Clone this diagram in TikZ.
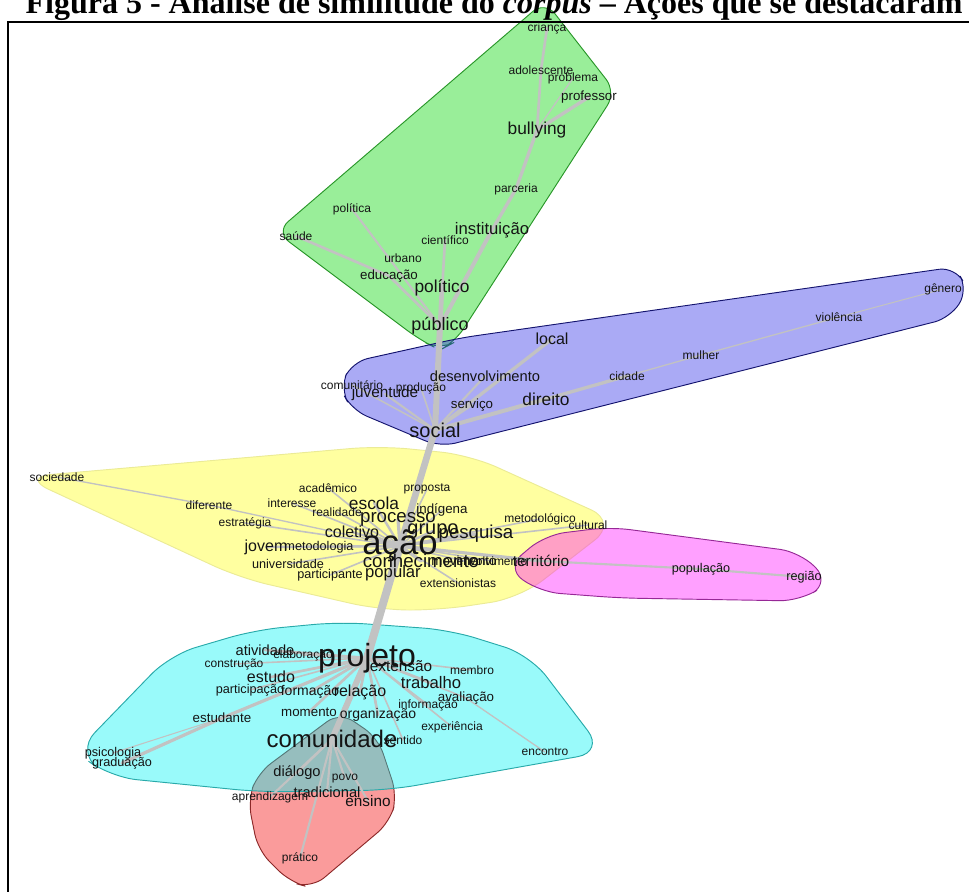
\documentclass[tikz,border=0pt]{standalone}
\usepackage{fontspec}
\setmainfont{Liberation Sans}
\newfontfamily\titlefont{Liberation Serif}
\usetikzlibrary{positioning}

\definecolor{cverde}{RGB}{0,212,0}
\definecolor{bverde}{RGB}{40,150,40}
\definecolor{cazul}{RGB}{42,42,230}
\definecolor{bazul}{RGB}{20,20,110}
\definecolor{camarelo}{RGB}{255,255,17}
\definecolor{bamarelo}{RGB}{235,235,150}
\definecolor{crosa}{RGB}{255,17,255}
\definecolor{brosa}{RGB}{150,40,150}
\definecolor{cciano}{RGB}{0,242,242}
\definecolor{bciano}{RGB}{40,170,170}
\definecolor{cverm}{RGB}{242,5,5}
\definecolor{bverm}{RGB}{140,40,40}

\pgfdeclarelayer{hulls}
\pgfdeclarelayer{edges}
\pgfsetlayers{hulls,edges,main}

\tikzset{
  word/.style={inner sep=0pt, text=black!92, font=\fontsize{#1}{#1}\selectfont},
  link/.style={draw=black!24, line width=#1, line cap=round},
  hull/.style={rounded corners=12pt, fill opacity=0.4, line width=0.7pt}
}

\begin{document}
\begin{tikzpicture}[x=0.75pt, y=-0.75pt]
	\useasboundingbox (0,0) rectangle (969,891);
	\clip (0,0) rectangle (969,891);
	\node[anchor=base] (titulo) at (494,14) {\titlefont\bfseries\fontsize{24}{24}\selectfont Figura 5 - Análise de similitude do \textit{corpus} – Ações que se destacaram};
	\draw [line width=1.6pt] (980,22) -- (8,22) -- (8,900);

	% grupo verde
	\node[word=9] (crianca) at (547,28) {criança};
	\node[word=9] (adolescente) at (541,70) {adolescente};
	\node[word=9] (problema) at (573,78) {problema};
	\node[word=10] (professor) at (589,97) {professor};
	\node[word=13] (bullying) at (537,130) {bullying};
	\node[word=9] (parceria) at (516,189) {parceria};
	\node[word=9] (politica) at (352,209) {política};
	\node[word=9] (saude) at (296,236) {saúde};
	\node[word=9] (cientifico) at (445,240) {científico};
	\node[word=12.5] (instituicao) at (492,230) {instituição};
	\node[word=9] (urbano) at (403,258) {urbano};
	\node[word=10] (educacao) at (389,276) {educação};
	\node[word=13] (politico) at (442,288) {político};
	\node[word=13.5] (publico) at (440,326) {público};

	% grupo azul
	\node[word=12] (local) at (552,339) {local};
	\node[word=9] (genero) at (943,289) {gênero};
	\node[word=9] (violencia) at (839,317) {violência};
	\node[word=9] (mulher) at (701,355) {mulher};
	\node[word=9] (cidade) at (627,376) {cidade};
	\node[word=11] (desenvolvimento) at (485,376) {desenvolvimento};
	\node[word=9] (comunitario) at (352,385) {comunitário};
	\node[word=9] (producao) at (421,388) {produção};
	\node[word=11.5] (juventude) at (385,394) {juventude};
	\node[word=10] (servico) at (472,405) {serviço};
	\node[word=13] (direito) at (546,399) {direito};
	\node[word=15] (social) at (435,430) {social};

	% grupo amarelo
	\node[word=9] (sociedade) at (57,477) {sociedade};
	\node[word=9] (academico) at (328,488) {acadêmico};
	\node[word=9] (proposta) at (427,489) {proposta};
	\node[word=9] (diferente) at (209,505) {diferente};
	\node[word=9] (interesse) at (292,503) {interesse};
	\node[word=13] (escola) at (374,503) {escola};
	\node[word=9] (realidade) at (337,512) {realidade};
	\node[word=10] (indigena) at (442,510) {indígena};
	\node[word=14] (processo) at (398,519) {processo};
	\node[word=9] (metodologico) at (540,519) {metodológico};
	\node[word=9] (estrategia) at (245,523) {estratégia};
	\node[word=12] (coletivo) at (352,532) {coletivo};
	\node[word=15] (grupo) at (433,531) {grupo};
	\node[word=14] (pesquisa) at (476,534) {pesquisa};
	\node[word=9] (cultural) at (588,525) {cultural};
	\node[word=26] (acao) at (400,546) {ação};
	\node[word=12] (jovem) at (266,547) {jovem};
	\node[word=9.5] (metodologia) at (319,547) {metodologia};
	\node[word=14] (conhecimento) at (421,561) {conhecimento};
	\node[word=10] (movimento) at (464,561) {movimento};
	\node[word=9] (envolvimento) at (492,561) {envolvimento};
	\node[word=9.5] (universidade) at (288,564) {universidade};
	\node[word=9.5] (participante) at (330,575) {participante};
	\node[word=12.5] (popular) at (393,573) {popular};
	\node[word=9] (extensionistas) at (458,583) {extensionistas};

	% grupo rosa
	\node[word=11.5] (territorio) at (541,561) {território};
	\node[word=9.5] (populacao) at (701,569) {população};
	\node[word=9.5] (regiao) at (804,577) {região};

	% grupo ciano
	\node[word=11] (atividade) at (265,650) {atividade};
	\node[word=9] (elaboracao) at (303,655) {elaboração};
	\node[word=24] (projeto) at (367,658) {projeto};
	\node[word=9] (construcao) at (234,664) {construção};
	\node[word=11.5] (extensao) at (401,666) {extensão};
	\node[word=9] (membro) at (472,670) {membro};
	\node[word=12] (estudo) at (271,677) {estudo};
	\node[word=12.5] (trabalho) at (431,683) {trabalho};
	\node[word=9.5] (participacao) at (250,690) {participação};
	\node[word=10.5] (formacao) at (310,692) {formação};
	\node[word=12] (relacao) at (360,692) {relação};
	\node[word=10] (avaliacao) at (466,698) {avaliação};
	\node[word=9] (informacao) at (428,705) {informação};
	\node[word=10] (momento) at (309,712) {momento};
	\node[word=10.5] (organizacao) at (378,715) {organização};
	\node[word=10] (estudante) at (222,718) {estudante};
	\node[word=9] (experiencia) at (452,727) {experiência};
	\node[word=9] (sentido) at (403,740) {sentido};
	\node[word=18] (comunidade) at (332,739) {comunidade};
	\node[word=9] (encontro) at (545,752) {encontro};
	\node[word=9.5] (psicologia) at (113,753) {psicologia};
	\node[word=9.5] (graduacao) at (122,763) {graduação};

	% grupo vermelho
	\node[word=11] (dialogo) at (297,773) {diálogo};
	\node[word=9] (povo) at (345,779) {povo};
	\node[word=9] (aprendizagem) at (270,797) {aprendizagem};
	\node[word=11] (tradicional) at (327,792) {tradicional};
	\node[word=11.5] (ensino) at (368,801) {ensino};
	\node[word=9] (pratico) at (300,858) {prático};

	\begin{pgfonlayer}{hulls}
		\draw[hull, fill=cverde, draw=bverde] (545,1) -- (616,92) -- (455,342) -- (440,350) -- (420,340) -- (276,232) -- cycle;
		\draw[hull, fill=cazul, draw=bazul] (955,267) -- (968,290) -- (950,318) -- (440,447) -- (352,410) -- (340,388) -- (352,362) -- (460,338) -- cycle;
		\draw[hull, rounded corners=22pt, fill=camarelo, draw=bamarelo] (22,477) -- (380,446) -- (470,455) -- (618,522) -- (520,598) -- (440,610) -- (380,610) -- (240,578) -- cycle;
		\draw[hull, rounded corners=15pt, fill=crosa, draw=brosa] (506,568) -- (545,535) -- (610,527) -- (800,552) -- (830,582) -- (800,601) -- (620,598) -- (540,592) -- cycle;
		\draw[hull, fill=cverm, draw=bverm] (340,712) -- (378,738) -- (397,795) -- (390,822) -- (312,888) -- (290,882) -- (258,850) -- (248,800) -- (258,773) -- cycle;
		\draw[hull, rounded corners=20pt, fill=cciano, draw=bciano] (76,752) -- (170,655) -- (255,630) -- (340,622) -- (450,630) -- (530,655) -- (604,752) -- (390,790) -- (260,792) -- (110,777) -- cycle;
	\end{pgfonlayer}

	\begin{pgfonlayer}{edges}
		% tronco
		\draw[link=4.5pt] (publico.center) -- (social.center);
		\draw[link=5pt] (social.center) -- (acao.center);
		\draw[link=6pt] (acao.center) -- (projeto.center);
		\draw[link=4.5pt] (projeto.center) -- (comunidade.center);
		% verde
		\draw[link=3.5pt] (publico.center) -- (politico.center);
		\draw[link=3pt] (publico.center) -- (instituicao.center);
		\draw[link=2pt] (publico.center) -- (cientifico.center);
		\draw[link=1.6pt] (publico.center) -- (politica.center);
		\draw[link=2pt] (publico.center) -- (educacao.center);
		\draw[link=2pt] (educacao.center) -- (saude.center);
		\draw[link=2.5pt] (instituicao.center) -- (parceria.center);
		\draw[link=2.5pt] (parceria.center) -- (bullying.center);
		\draw[link=2pt] (bullying.center) -- (adolescente.center);
		\draw[link=2pt] (adolescente.center) -- (crianca.center);
		\draw[link=2.5pt] (bullying.center) -- (professor.center);
		\draw[link=1pt] (bullying.center) -- (problema.center);
		% azul
		\draw[link=2.5pt] (social.center) -- (local.center);
		\draw[link=3pt] (social.center) -- (direito.center);
		\draw[link=2.5pt] (direito.center) -- (cidade.center);
		\draw[link=1pt] (cidade.center) -- (mulher.center);
		\draw[link=1pt] (mulher.center) -- (violencia.center);
		\draw[link=0.8pt] (violencia.center) -- (genero.center);
		\draw[link=1.6pt] (social.center) -- (juventude.center);
		\draw[link=1.2pt] (social.center) -- (comunitario.center);
		\draw[link=1.2pt] (social.center) -- (producao.center);
		\draw[link=1.6pt] (social.center) -- (servico.center);
		\draw[link=1.6pt] (social.center) -- (desenvolvimento.center);
		% amarelo
		\draw[link=1pt] (acao.center) -- (diferente.center);
		\draw[link=1pt] (diferente.center) -- (sociedade.center);
		\foreach \w in {academico,proposta,interesse,realidade,indigena,metodologico,estrategia,cultural,metodologia,movimento,envolvimento,universidade,participante,extensionistas}
			\draw[link=1.2pt] (acao.center) -- (\w.center);
		\foreach \w in {escola,coletivo,jovem,popular,grupo}
			\draw[link=1.8pt] (acao.center) -- (\w.center);
		\foreach \w in {processo,pesquisa,conhecimento,territorio}
			\draw[link=2.4pt] (acao.center) -- (\w.center);
		\draw[link=1.6pt] (territorio.center) -- (populacao.center);
		\draw[link=1.6pt] (populacao.center) -- (regiao.center);
		% ciano
		\foreach \w in {elaboracao,construcao,participacao,membro,avaliacao,informacao,experiencia,sentido}
			\draw[link=1.2pt] (projeto.center) -- (\w.center);
		\foreach \w in {atividade,estudo,formacao,relacao,extensao,trabalho,organizacao,momento}
			\draw[link=2pt] (projeto.center) -- (\w.center);
		\draw[link=2.4pt] (projeto.center) -- (estudante.center);
		\draw[link=2.4pt] (estudante.center) -- (graduacao.center);
		\draw[link=0.8pt] (estudante.center) -- (psicologia.center);
		\draw[link=1pt] (avaliacao.center) -- (encontro.center);
		% vermelho
		\foreach \w in {dialogo,povo,tradicional,aprendizagem,ensino,pratico}
			\draw[link=1.6pt] (comunidade.center) -- (\w.center);
	\end{pgfonlayer}
\end{tikzpicture}
\end{document}
